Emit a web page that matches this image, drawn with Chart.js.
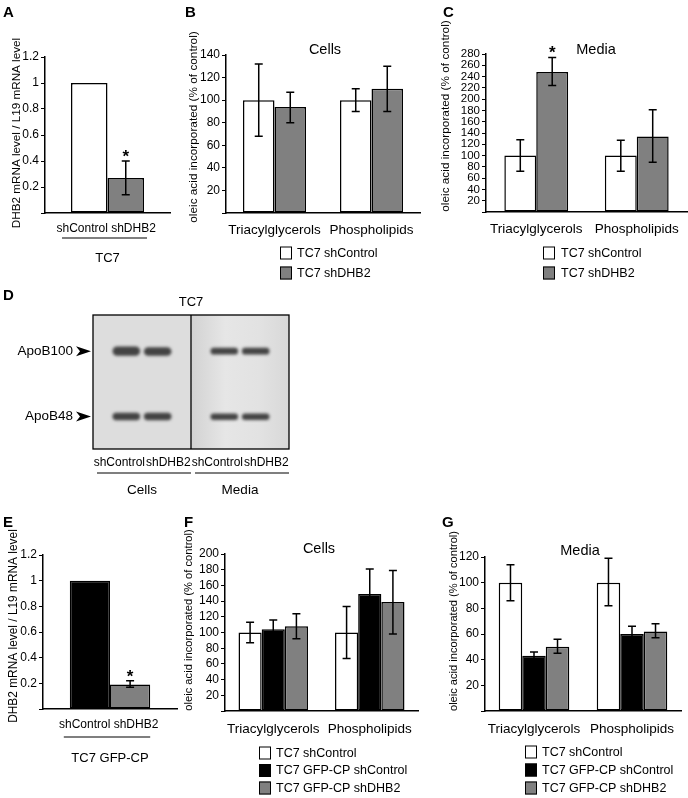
<!DOCTYPE html>
<html><head><meta charset="utf-8">
<script src="https://cdn.jsdelivr.net/npm/chart.js@4.4.1/dist/chart.umd.min.js"></script>
<style>
html,body{margin:0;padding:0;background:#fff;}
#wrap{position:relative;width:688px;height:798px;overflow:hidden;background:#fff;}
#wrap canvas{position:absolute;left:0;top:0;}
</style></head><body>
<div id="wrap">
<canvas id="cA" width="688" height="798"></canvas>
<canvas id="cB" width="688" height="798"></canvas>
<canvas id="cC" width="688" height="798"></canvas>
<canvas id="cD" width="688" height="798"></canvas>
<canvas id="cE" width="688" height="798"></canvas>
<canvas id="cF" width="688" height="798"></canvas>
<canvas id="cG" width="688" height="798"></canvas>
</div>
<script>
// ================= DATA =================
// Panel A (TC7, qPCR)
const A_group = ['TC7'];
const A_series = ['shControl', 'shDHB2'];
const A_values = [1, 0.27];
const A_errLow = [null, 0.14];
const A_errHigh = [null, 0.40];
const A_signif = [false, true];
const A_yTicks = [0, 0.2, 0.4, 0.6, 0.8, 1, 1.2];

// Panels B, C, F, G categories
const lipidClasses = ['Triacylglycerols', 'Phospholipids'];

// Panel B (Cells)
const B_series = ['TC7 shControl', 'TC7 shDHB2'];
const B_shControl = [100, 100];
const B_shControlLow = [68, 90];
const B_shControlHigh = [132, 110];
const B_shDHB2 = [94, 110];
const B_shDHB2Low = [80, 90];
const B_shDHB2High = [107, 130];
const B_yTicks = [0, 20, 40, 60, 80, 100, 120, 140];

// Panel C (Media)
const C_series = ['TC7 shControl', 'TC7 shDHB2'];
const C_shControl = [100, 100];
const C_shControlLow = [72, 72];
const C_shControlHigh = [128, 127];
const C_shDHB2 = [248, 134];
const C_shDHB2Low = [224, 88];
const C_shDHB2High = [274, 181];
const C_shDHB2Signif = [true, false];
const C_yTicks = [0, 20, 40, 60, 80, 100, 120, 140, 160, 180, 200, 220, 240, 260, 280];

// Panel D (western blot, band position as fraction of blot height from top)
const D_fractions = ['Cells', 'Media'];
const D_lanes = ['shControl', 'shDHB2'];
const D_bands = ['ApoB100', 'ApoB48'];
const D_apoB100_shControl = [[0.235, 0.305], [0.245, 0.295]];
const D_apoB100_shDHB2 = [[0.24, 0.305], [0.245, 0.295]];
const D_apoB48_shControl = [[0.73, 0.785], [0.735, 0.783]];
const D_apoB48_shDHB2 = [[0.73, 0.785], [0.735, 0.783]];

// Panel E (TC7 GFP-CP, qPCR)
const E_group = ['TC7 GFP-CP'];
const E_series = ['shControl', 'shDHB2'];
const E_values = [1, 0.19];
const E_errLow = [null, 0.17];
const E_errHigh = [null, 0.22];
const E_signif = [false, true];
const E_yTicks = [0, 0.2, 0.4, 0.6, 0.8, 1, 1.2];

// Panel F (Cells)
const FG_series = ['TC7 shControl', 'TC7 GFP-CP shControl', 'TC7 GFP-CP shDHB2'];
const F_tc7 = [100, 100];
const F_tc7Low = [87, 67];
const F_tc7High = [113, 133];
const F_gfpShControl = [104, 149];
const F_gfpShControlLow = [92, 117];
const F_gfpShControlHigh = [116, 181];
const F_gfpShDHB2 = [108, 139];
const F_gfpShDHB2Low = [92, 98];
const F_gfpShDHB2High = [124, 179];
const F_yTicks = [0, 20, 40, 60, 80, 100, 120, 140, 160, 180, 200];

// Panel G (Media)
const G_tc7 = [100, 100];
const G_tc7Low = [86, 82];
const G_tc7High = [114, 119];
const G_gfpShControl = [43, 60];
const G_gfpShControlLow = [40, 54];
const G_gfpShControlHigh = [46, 66];
const G_gfpShDHB2 = [50, 62];
const G_gfpShDHB2Low = [45, 57];
const G_gfpShDHB2High = [56, 68];
const G_yTicks = [0, 20, 40, 60, 80, 100, 120];

// ================= STYLE / HELPERS =================
const FONT = "'Liberation Sans', Arial, Helvetica, sans-serif";
const WHITE = '#ffffff', GRAY = '#808080', BLACK = '#000000';
const CW = 688, CH = 798;
function fnt(size, bold) { return (bold ? 'bold ' : '') + size + 'px ' + FONT; }
function fmt(v) { return v === 0 ? '' : String(+(+v).toFixed(2)); }

function drawTexts(ctx, texts) {
  (texts || []).forEach(t => {
    ctx.save();
    ctx.fillStyle = '#000';
    ctx.font = fnt(t.size, t.bold);
    ctx.textAlign = t.align || 'left';
    ctx.textBaseline = 'alphabetic';
    if (t.rot) {
      ctx.translate(t.x, t.y);
      ctx.rotate(-Math.PI / 2);
      ctx.textBaseline = 'middle';
      ctx.textAlign = 'center';
      ctx.fillText(t.t, 0, 0);
    } else {
      ctx.fillText(t.t, t.x, t.y);
    }
    ctx.restore();
  });
}

function makeBarPanel(id, p) {
  const W = 40, H = 70;
  const a = p.area;
  const plugin = {
    id: 'panel' + id,
    afterDatasetsDraw(chart) {
      const ctx = chart.ctx, ys = chart.scales.y;
      ctx.save();
      ctx.strokeStyle = '#000';
      ctx.lineWidth = 1.5;
      chart.data.datasets.forEach((ds, i) => {
        const meta = chart.getDatasetMeta(i);
        meta.data.forEach((bar, j) => {
          const lo = ds.errLow ? ds.errLow[j] : null;
          const hi = ds.errHigh ? ds.errHigh[j] : null;
          if (lo == null || hi == null) return;
          const yl = ys.getPixelForValue(lo), yh = ys.getPixelForValue(hi);
          ctx.beginPath();
          ctx.moveTo(bar.x, yl); ctx.lineTo(bar.x, yh);
          ctx.moveTo(bar.x - 4, yl); ctx.lineTo(bar.x + 4, yl);
          ctx.moveTo(bar.x - 4, yh); ctx.lineTo(bar.x + 4, yh);
          ctx.stroke();
          if (ds.signif && ds.signif[j]) {
            ctx.fillStyle = '#000';
            ctx.font = fnt(17, true);
            ctx.textAlign = 'center';
            ctx.textBaseline = 'alphabetic';
            ctx.fillText('*', bar.x, yh + 1);
          }
        });
      });
      ctx.restore();
    },
    afterDraw(chart) {
      const ctx = chart.ctx;
      drawTexts(ctx, p.texts);
      if (p.legend) {
        const L = p.legend;
        chart.data.datasets.forEach((ds, i) => {
          const ry = L.rows[i];
          ctx.save();
          ctx.fillStyle = ds.backgroundColor;
          ctx.fillRect(L.x, ry - 6.5, 12, 13);
          ctx.strokeStyle = '#000';
          ctx.lineWidth = 1;
          ctx.strokeRect(L.x + 0.5, ry - 6, 11, 12);
          ctx.fillStyle = '#000';
          ctx.font = fnt(L.size);
          ctx.textAlign = 'left';
          ctx.textBaseline = 'middle';
          ctx.fillText(ds.label, L.tx, ry + 0.5);
          ctx.restore();
        });
      }
      if (p.sub) {
        const S = p.sub;
        const m0 = chart.getDatasetMeta(0).data[0];
        const m1 = chart.getDatasetMeta(1).data[0];
        const left = m0.x - m0.width / 2, right = m1.x + m1.width / 2;
        const cx = (left + right) / 2 + S.shift;
        ctx.save();
        ctx.fillStyle = '#000';
        ctx.font = fnt(S.size);
        ctx.textBaseline = 'middle';
        const sp = ctx.measureText(' ').width / 2;
        ctx.textAlign = 'right';
        ctx.fillText(chart.data.datasets[0].label, cx - sp, S.y);
        ctx.textAlign = 'left';
        ctx.fillText(chart.data.datasets[1].label, cx + sp, S.y);
        ctx.strokeStyle = '#000';
        ctx.lineWidth = 1.2;
        ctx.beginPath();
        ctx.moveTo(left + S.l, S.lineY);
        ctx.lineTo(right + S.r, S.lineY);
        ctx.stroke();
        ctx.restore();
      }
    }
  };
  return new Chart(document.getElementById(id), {
    type: 'bar',
    data: {
      labels: p.labels,
      datasets: p.datasets.map(d => ({
        label: d.label, data: d.data,
        backgroundColor: d.color, borderColor: '#000', borderWidth: 1.5, borderSkipped: false,
        errLow: d.lo, errHigh: d.hi, signif: d.sig,
        categoryPercentage: p.catPct, barPercentage: 1
      }))
    },
    options: {
      responsive: false, animation: false, events: [],
      layout: { padding: { left: a.l - W, top: a.t, right: CW - a.r, bottom: CH - a.b - H } },
      plugins: { legend: { display: false }, tooltip: { enabled: false }, title: { display: false } },
      scales: {
        x: {
          type: 'category', offset: true,
          grid: { display: false },
          border: { display: true, color: '#000', width: 1.5 },
          ticks: { color: '#000', font: { family: FONT, size: p.xSize }, padding: p.xPad, maxRotation: 0, autoSkip: false },
          afterFit: s => { s.height = H; }
        },
        y: {
          type: 'linear', min: p.yTicks[0], max: p.yTicks[p.yTicks.length - 1],
          afterBuildTicks: s => { s.ticks = p.yTicks.map(v => ({ value: v })); },
          ticks: { color: '#000', font: { family: FONT, size: p.ySize }, padding: 2, autoSkip: false, callback: v => fmt(v) },
          grid: { display: true, drawOnChartArea: false, drawTicks: true, tickLength: 4, color: '#000', lineWidth: 1 },
          border: { display: true, color: '#000', width: 1.5 },
          afterFit: s => { s.width = W; }
        }
      }
    },
    plugins: [plugin]
  });
}

// ================= PANEL A =================
makeBarPanel('cA', {
  area: { l: 45, t: 57, r: 170, b: 213 },
  labels: A_group, catPct: 0.584, xSize: 13, xPad: 30, ySize: 12, yTicks: A_yTicks,
  datasets: [
    { label: A_series[0], data: [A_values[0]], color: WHITE, lo: [A_errLow[0]], hi: [A_errHigh[0]], sig: [A_signif[0]] },
    { label: A_series[1], data: [A_values[1]], color: GRAY, lo: [A_errLow[1]], hi: [A_errHigh[1]], sig: [A_signif[1]] }
  ],
  sub: { y: 229, size: 12, shift: 2, lineY: 238, l: -9, r: 3 },
  texts: [
    { t: 'A', x: 3, y: 17, size: 15, bold: true },
    { t: 'DHB2 mRNA level / L19 mRNA level', x: 17, y: 133, size: 11.7, rot: true }
  ]
});

// ================= PANEL B =================
makeBarPanel('cB', {
  area: { l: 226, t: 55, r: 420, b: 213 },
  labels: lipidClasses, catPct: 0.65, xSize: 13.5, xPad: 1, ySize: 12, yTicks: B_yTicks,
  datasets: [
    { label: B_series[0], data: B_shControl, color: WHITE, lo: B_shControlLow, hi: B_shControlHigh },
    { label: B_series[1], data: B_shDHB2, color: GRAY, lo: B_shDHB2Low, hi: B_shDHB2High }
  ],
  legend: { x: 280, rows: [253, 273], tx: 297, size: 12.5 },
  texts: [
    { t: 'B', x: 185, y: 17, size: 15, bold: true },
    { t: 'Cells', x: 325, y: 54, size: 14.5, align: 'center' },
    { t: 'oleic acid incorporated (% of control)', x: 194, y: 127, size: 11.8, rot: true }
  ]
});

// ================= PANEL C =================
makeBarPanel('cC', {
  area: { l: 486, t: 54, r: 687, b: 212 },
  labels: lipidClasses, catPct: 0.635, xSize: 13.5, xPad: 1, ySize: 11.5, yTicks: C_yTicks,
  datasets: [
    { label: C_series[0], data: C_shControl, color: WHITE, lo: C_shControlLow, hi: C_shControlHigh },
    { label: C_series[1], data: C_shDHB2, color: GRAY, lo: C_shDHB2Low, hi: C_shDHB2High, sig: C_shDHB2Signif }
  ],
  legend: { x: 543, rows: [253, 273], tx: 561, size: 12.5 },
  texts: [
    { t: 'C', x: 443, y: 17, size: 15, bold: true },
    { t: 'Media', x: 596, y: 54, size: 14.5, align: 'center' },
    { t: 'oleic acid incorporated (% of control)', x: 446, y: 116, size: 11.8, rot: true }
  ]
});

// ================= PANEL D (blot) =================
(function () {
  const area = { l: 93, t: 315, r: 289, b: 449 };
  const H = 70;
  const bandColor = 'rgba(40,40,40,0.85)';
  const blot = {
    id: 'blot',
    beforeDatasetsDraw(chart) {
      const ctx = chart.ctx, ca = chart.chartArea, xs = chart.scales.x;
      const mid = (xs.getPixelForValue(0) + xs.getPixelForValue(1)) / 2;
      ctx.save();
      ctx.fillStyle = '#dddddd';
      ctx.fillRect(ca.left, ca.top, mid - ca.left, ca.bottom - ca.top);
      const g = ctx.createLinearGradient(mid, 0, ca.right, 0);
      g.addColorStop(0, '#d2d2d2');
      g.addColorStop(0.35, '#e6e6e6');
      g.addColorStop(0.7, '#e2e2e2');
      g.addColorStop(1, '#d8d8d8');
      ctx.fillStyle = g;
      ctx.fillRect(mid, ca.top, ca.right - mid, ca.bottom - ca.top);
      ctx.restore();
      ctx.save();
      ctx.filter = 'blur(1.8px)';
    },
    afterDatasetsDraw(chart) {
      chart.ctx.restore();
      const ctx = chart.ctx, ca = chart.chartArea, xs = chart.scales.x, ys = chart.scales.y;
      const mid = (xs.getPixelForValue(0) + xs.getPixelForValue(1)) / 2;
      ctx.save();
      ctx.strokeStyle = '#000';
      ctx.lineWidth = 1.3;
      ctx.strokeRect(ca.left, ca.top, ca.right - ca.left, ca.bottom - ca.top);
      ctx.beginPath();
      ctx.moveTo(mid, ca.top); ctx.lineTo(mid, ca.bottom);
      ctx.stroke();
      // band labels with arrowheads
      ctx.fillStyle = '#000';
      ctx.font = fnt(13.5);
      ctx.textAlign = 'right';
      ctx.textBaseline = 'middle';
      const bandCenters = [
        (D_apoB100_shControl[0][0] + D_apoB100_shControl[0][1]) / 2,
        (D_apoB48_shControl[0][0] + D_apoB48_shControl[0][1]) / 2
      ];
      D_bands.forEach((name, k) => {
        const yy = ys.getPixelForValue(bandCenters[k]);
        ctx.fillText(name, 73, yy);
        ctx.beginPath();
        ctx.moveTo(76, yy - 5); ctx.lineTo(91, yy); ctx.lineTo(76, yy + 5); ctx.lineTo(80, yy);
        ctx.closePath();
        ctx.fill();
      });
      // lane labels + group lines
      ctx.font = fnt(12);
      [0, 1].forEach(ci => {
        const cx = xs.getPixelForValue(ci);
        ctx.textAlign = 'right';
        ctx.fillText(D_lanes[0], cx + 3, 463);
        ctx.textAlign = 'left';
        ctx.fillText(D_lanes[1], cx + 4, 463);
        ctx.beginPath();
        ctx.lineWidth = 1.2;
        ctx.moveTo(cx - 45, 473); ctx.lineTo(cx + 49, 473);
        ctx.stroke();
      });
      ctx.textAlign = 'center';
      ctx.font = fnt(13);
      ctx.fillText('TC7', (ca.left + ca.right) / 2, 302);
      ctx.restore();
      drawTexts(ctx, [{ t: 'D', x: 3, y: 300, size: 15, bold: true }]);
    }
  };
  const mk = (label, stack, data) => ({
    label, stack, data, backgroundColor: bandColor, borderWidth: 0, borderRadius: 6, borderSkipped: false,
    categoryPercentage: 0.64, barPercentage: 0.88
  });
  new Chart(document.getElementById('cD'), {
    type: 'bar',
    data: {
      labels: D_fractions,
      datasets: [
        mk(D_bands[0] + ' ' + D_lanes[0], D_lanes[0], D_apoB100_shControl),
        mk(D_bands[0] + ' ' + D_lanes[1], D_lanes[1], D_apoB100_shDHB2),
        mk(D_bands[1] + ' ' + D_lanes[0], D_lanes[0], D_apoB48_shControl),
        mk(D_bands[1] + ' ' + D_lanes[1], D_lanes[1], D_apoB48_shDHB2)
      ]
    },
    options: {
      responsive: false, animation: false, events: [],
      layout: { padding: { left: area.l, top: area.t, right: CW - area.r, bottom: CH - area.b - H } },
      plugins: { legend: { display: false }, tooltip: { enabled: false } },
      scales: {
        x: {
          type: 'category', offset: true,
          grid: { display: false }, border: { display: false },
          ticks: { color: '#000', font: { family: FONT, size: 13.5 }, padding: 25, maxRotation: 0 },
          afterFit: s => { s.height = H; }
        },
        y: { type: 'linear', min: 0, max: 1, reverse: true, stacked: false, display: false }
      }
    },
    plugins: [blot]
  });
})();

// ================= PANEL E =================
makeBarPanel('cE', {
  area: { l: 43, t: 555, r: 177, b: 709 },
  labels: E_group, catPct: 0.60, xSize: 13, xPad: 34, ySize: 12, yTicks: E_yTicks,
  datasets: [
    { label: E_series[0], data: [E_values[0]], color: BLACK, lo: [E_errLow[0]], hi: [E_errHigh[0]], sig: [E_signif[0]] },
    { label: E_series[1], data: [E_values[1]], color: GRAY, lo: [E_errLow[1]], hi: [E_errHigh[1]], sig: [E_signif[1]] }
  ],
  sub: { y: 725, size: 12, shift: 2, lineY: 737, l: -6, r: 0 },
  texts: [
    { t: 'E', x: 3, y: 527, size: 15, bold: true },
    { t: 'DHB2 mRNA level / L19 mRNA level', x: 14, y: 626, size: 11.9, rot: true }
  ]
});

// ================= PANEL F =================
makeBarPanel('cF', {
  area: { l: 225, t: 554, r: 418, b: 711 },
  labels: lipidClasses, catPct: 0.72, xSize: 13.5, xPad: 2, ySize: 12, yTicks: F_yTicks,
  datasets: [
    { label: FG_series[0], data: F_tc7, color: WHITE, lo: F_tc7Low, hi: F_tc7High },
    { label: FG_series[1], data: F_gfpShControl, color: BLACK, lo: F_gfpShControlLow, hi: F_gfpShControlHigh },
    { label: FG_series[2], data: F_gfpShDHB2, color: GRAY, lo: F_gfpShDHB2Low, hi: F_gfpShDHB2High }
  ],
  legend: { x: 259, rows: [753, 770.5, 788], tx: 276, size: 12.5 },
  texts: [
    { t: 'F', x: 184, y: 527, size: 15, bold: true },
    { t: 'Cells', x: 319, y: 553, size: 14.5, align: 'center' },
    { t: 'oleic acid incorporated (% of control)', x: 189, y: 620, size: 11.2, rot: true }
  ]
});

// ================= PANEL G =================
makeBarPanel('cG', {
  area: { l: 485, t: 557, r: 681, b: 711 },
  labels: lipidClasses, catPct: 0.72, xSize: 13.5, xPad: 2, ySize: 12, yTicks: G_yTicks,
  datasets: [
    { label: FG_series[0], data: G_tc7, color: WHITE, lo: G_tc7Low, hi: G_tc7High },
    { label: FG_series[1], data: G_gfpShControl, color: BLACK, lo: G_gfpShControlLow, hi: G_gfpShControlHigh },
    { label: FG_series[2], data: G_gfpShDHB2, color: GRAY, lo: G_gfpShDHB2Low, hi: G_gfpShDHB2High }
  ],
  legend: { x: 525, rows: [752, 770, 788], tx: 542, size: 12.5 },
  texts: [
    { t: 'G', x: 442, y: 527, size: 15, bold: true },
    { t: 'Media', x: 580, y: 555, size: 14.5, align: 'center' },
    { t: 'oleic acid incorporated (% of control)', x: 454, y: 621, size: 11.1, rot: true }
  ]
});
</script>
</body></html>
